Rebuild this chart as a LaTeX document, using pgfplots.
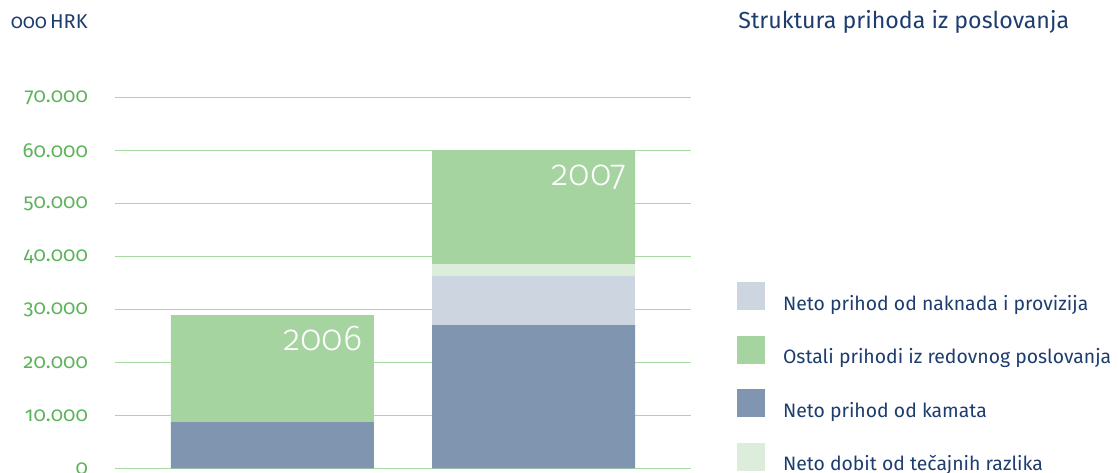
\documentclass[border=0pt]{standalone}
\usepackage{fontspec}
\usepackage{pgfplots}
\pgfplotsset{compat=1.18}
\setmainfont{Fira Sans}[Numbers=OldStyle]
\newfontfamily\yearfont{Fira Sans Light}[Numbers=OldStyle]
\definecolor{intcol}{RGB}{128,149,176}
\definecolor{feescol}{RGB}{205,213,224}
\definecolor{othercol}{RGB}{166,212,160}
\definecolor{fxcol}{RGB}{220,238,219}
\definecolor{navy}{RGB}{30,61,111}
\definecolor{tickgreen}{RGB}{93,179,90}
\definecolor{gridgreen}{RGB}{169,217,163}
\begin{document}
\begin{tikzpicture}
\useasboundingbox (-57.5pt,-1.85pt) rectangle (501.5pt,234.15pt);
\begin{axis}[
  at={(0pt,0pt)}, anchor=south west,
  scale only axis, width=288pt, height=185.4pt,
  xmin=-0.603, xmax=1.603, ymin=0, ymax=70000,
  ybar stacked, bar width=101.5pt,
  axis line style={draw=none},
  xtick=\empty,
  ytick={0,10000,20000,30000,40000,50000,60000,70000},
  ymajorgrids, grid style={gridgreen, line width=0.7pt},
  major tick length=0pt,
  scaled y ticks=false,
  /pgf/number format/.cd, 1000 sep={.}, assume math mode=true,
  /pgfplots/.cd,
  yticklabel style={font=\fontsize{10.2}{12}\selectfont, text=tickgreen, xshift=-10pt},
  clip=false,
  legend style={at={(1.0799,0.5024)}, anchor=north west, draw=none, fill=none,
    inner sep=0pt, outer sep=0pt, row sep=11.3pt, column sep=9pt,
    nodes={inner sep=0pt, anchor=base west},
    font=\fontsize{9.7}{12}\selectfont, text=navy},
  legend cell align=left,
]
\addplot[fill=intcol, draw=none, forget plot] coordinates {(0,8740) (1,27050)};
\addplot[fill=feescol, draw=none, forget plot] coordinates {(0,0) (1,9310)};
\addplot[fill=fxcol, draw=none, forget plot] coordinates {(0,0) (1,2210)};
\addplot[fill=othercol, draw=none, forget plot] coordinates {(0,20200) (1,21430)};
\addlegendimage{fill=feescol, draw=none, legend image code/.code={\fill (0pt,0pt) rectangle (14pt,14pt);}}
\addlegendentry{Neto prihod od naknada i provizija}
\addlegendimage{fill=othercol, draw=none, legend image code/.code={\fill (0pt,0pt) rectangle (14pt,14pt);}}
\addlegendentry{Ostali prihodi iz redovnog poslovanja}
\addlegendimage{fill=intcol, draw=none, legend image code/.code={\fill (0pt,0pt) rectangle (14pt,14pt);}}
\addlegendentry{Neto prihod od kamata}
\addlegendimage{fill=fxcol, draw=none, legend image code/.code={\fill (0pt,0pt) rectangle (14pt,14pt);}}
\addlegendentry{Neto dobit od tečajnih razlika}
\coordinate (y2006) at (axis cs:0.347,22200);
\coordinate (y2007) at (axis cs:1.358,53480);
\end{axis}
\node[anchor=base east, inner sep=0pt, text=white, font=\yearfont\fontsize{18}{18}\selectfont] at (y2006) {2006};
\node[anchor=base east, inner sep=0pt, text=white, font=\yearfont\fontsize{18}{18}\selectfont] at (y2007) {2007};
\node[anchor=base west, inner sep=0pt, text=navy, font=\fontsize{11.6}{14}\selectfont] at (311.5pt,220pt) {Struktura prihoda iz poslovanja};
\node[anchor=base east, inner sep=0pt, text=navy, font=\fontsize{10}{12}\selectfont] at (-13.5pt,219.65pt) {000\kern1.5pt HRK};
\end{tikzpicture}
\end{document}
